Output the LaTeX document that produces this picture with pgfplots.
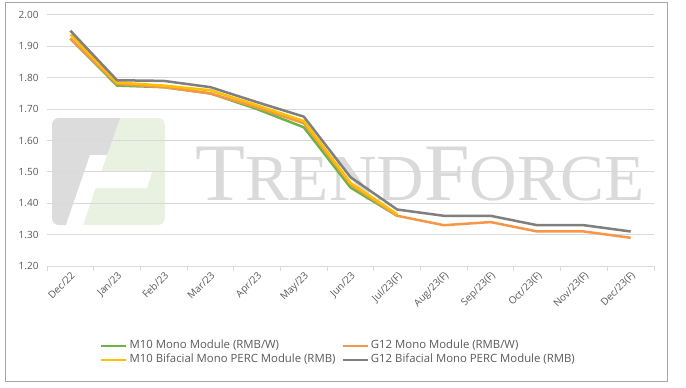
\documentclass[border=0pt]{standalone}
\usepackage{pgfplots}
\pgfplotsset{compat=1.18}
\usepackage{fontspec}
\setmainfont{Open Sans}
\newfontfamily\wmfont{Liberation Serif}
\definecolor{cgreen}{HTML}{6AB344}
\definecolor{corange}{HTML}{F79646}
\definecolor{cyellow}{HTML}{FFC000}
\definecolor{cgray}{HTML}{7F7F7F}
\definecolor{gridgray}{HTML}{D9D9D9}
\definecolor{wmgray}{HTML}{DCDCDC}
\definecolor{wmgreen}{HTML}{E9F2E0}
\definecolor{wmtext}{HTML}{DADADA}
\definecolor{labelc}{HTML}{595959}
\definecolor{framec}{HTML}{A6A6A6}
\begin{document}
\begin{tikzpicture}[x=1bp,y=1bp]
\path (0,0) rectangle (686,387);
\draw[framec, line width=1bp] (5,6) rectangle (667,384);
% watermark logo
\begin{scope}
\clip[rounded corners=7bp] (52,162) rectangle (165,269);
\fill[wmgreen] (52,162) rectangle (165,269);
\fill[wmgray] (52,269) -- (120,269) -- (107,232) -- (90,232) -- (66,162) -- (52,162) -- cycle;
\fill[white] (90,232) -- (107,232) -- (83,162) -- (66,162) -- cycle;
\fill[white] (100,215) -- (152,215) -- (147,199) -- (95,199) -- cycle;
\end{scope}
\node[anchor=base west, text=wmtext, inner sep=0pt] at (195,187) {\wmfont\fontsize{82}{82}\selectfont T\fontsize{66}{66}\selectfont REND\fontsize{82}{82}\selectfont F\fontsize{66}{66}\selectfont ORCE};
\begin{axis}[
  at={(47bp,121bp)}, anchor=south west,
  scale only axis, width=607bp, height=251bp,
  xmin=-0.5, xmax=12.5, ymin=1.2, ymax=2.0,
  ytick={1.2,1.3,1.4,1.5,1.6,1.7,1.8,1.9,2.0},
  yticklabel style={font=\fontsize{10}{12}\selectfont, text=labelc,
    /pgf/number format/fixed, /pgf/number format/fixed zerofill,
    /pgf/number format/precision=2, /pgf/number format/assume math mode=true},
  axis x line*=bottom, axis y line*=left,
  y axis line style={draw=none},
  x axis line style={gridgray, line width=1bp},
  ymajorgrids, grid style={gridgray, line width=1bp},
  ytick style={draw=none},
  xtick={-0.5,0.5,...,12.5}, xticklabels={},
  xtick style={gridgray, line width=1bp},
  major tick length=5bp, tick align=outside,
  extra x ticks={0,1,2,3,4,5,6,7,8,9,10,11,12},
  extra x tick labels={Dec/22,Jan/23,Feb/23,Mar/23,Apr/23,May/23,Jun/23,Jul/23(F),Aug/23(F),Sep/23(F),Oct/23(F),Nov/23(F),Dec/23(F)},
  extra x tick style={major tick length=0pt, xtick style={draw=none}},
  xticklabel style={rotate=45, anchor=north east, font=\fontsize{10}{12}\selectfont, text=labelc},
  legend columns=2,
  legend cell align=left,
  legend style={at={(0.0873,-0.291)}, anchor=north west, draw=none, fill=none,
    inner sep=0pt, row sep=0.5bp,
    font=\fontsize{11.4}{13}\selectfont, text=labelc,
    nodes={inner xsep=2bp, inner ysep=1.5bp, text height=8bp, text depth=2.5bp},
    /tikz/every even column/.append style={column sep=4bp}},
  legend image code/.code={\draw[#1, line width=2.5bp] (0,0) -- (25bp,0);},
  every axis plot/.append style={line width=2.5bp, line join=round},
]
\addplot[cgreen, no marks] coordinates {(0,1.925)(1,1.775)(2,1.77)(3,1.75)(4,1.70)(5,1.642)(6,1.45)(7,1.36)};
\addlegendentry{M10 Mono Module (RMB/W)}
\addplot[corange, no marks] coordinates {(0,1.925)(1,1.78)(2,1.77)(3,1.75)(4,1.705)(5,1.655)(6,1.46)(7,1.36)(8,1.33)(9,1.34)(10,1.31)(11,1.31)(12,1.29)};
\addlegendentry{G12 Mono Module (RMB/W)}
\addplot[cyellow, no marks] coordinates {(0,1.938)(1,1.785)(2,1.775)(3,1.76)(4,1.712)(5,1.662)(6,1.465)(7,1.365)};
\addlegendentry{M10 Bifacial Mono PERC Module (RMB)}
\addplot[cgray, no marks] coordinates {(0,1.95)(1,1.792)(2,1.79)(3,1.77)(4,1.722)(5,1.676)(6,1.483)(7,1.38)(8,1.36)(9,1.36)(10,1.33)(11,1.33)(12,1.31)};
\addlegendentry{G12 Bifacial Mono PERC Module (RMB)}
\end{axis}
\end{tikzpicture}
\end{document}
